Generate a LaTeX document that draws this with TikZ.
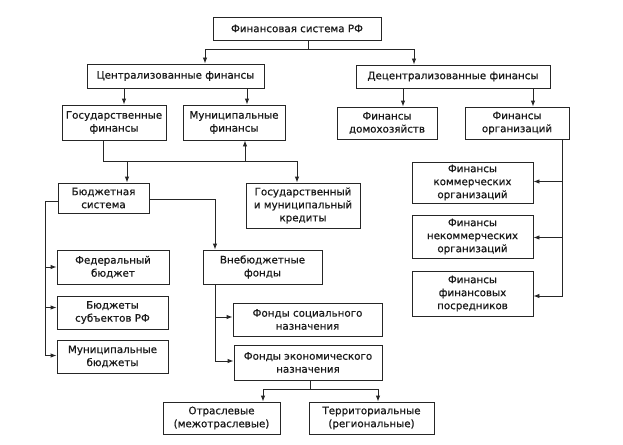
\documentclass[tikz,border=0pt]{standalone}
\usepackage{fontspec}
\setmainfont[FakeBold=0.6]{DejaVu Sans}
\usetikzlibrary{arrows.meta}
\begin{document}
\begin{tikzpicture}[x=1pt,y=-1pt,
  bx/.style={draw=black!85,line width=0.9pt,inner sep=0pt,align=center,
    font=\fontsize{10.3}{13}\selectfont,text=black!90},
  ln/.style={draw=black!85,line width=0.9pt},
  arr/.style={ln,-{Latex[length=6pt,width=4.5pt]}}]
\path[use as bounding box,fill=white] (0,0) rectangle (623,444);
% boxes
\node[bx,minimum width=168,minimum height=23] (root) at (297,28.5) {Финансовая система РФ};
\node[bx,minimum width=177,minimum height=24] (cen) at (175.5,76) {Централизованные финансы};
\node[bx,minimum width=194,minimum height=23] (dec) at (453,76.5) {Децентрализованные финансы};
\node[bx,minimum width=104,minimum height=35] (gos) at (114,122.5) {Государственные\\финансы};
\node[bx,minimum width=102,minimum height=35] (mun) at (234,122.5) {Муниципальные\\финансы};
\node[bx,minimum width=100,minimum height=32] (dom) at (387,123) {Финансы\\домохозяйств};
\node[bx,minimum width=104,minimum height=32] (org) at (517,123) {Финансы\\организаций};
\node[bx,minimum width=91,minimum height=30] (bud) at (103.5,198) {Бюджетная\\система};
\node[bx,minimum width=114,minimum height=45] (kred) at (303,205.5) {Государственный\\и муниципальный\\кредиты};
\node[bx,minimum width=112,minimum height=34] (fed) at (113,267) {Федеральный\\бюджет};
\node[bx,minimum width=111,minimum height=33] (sub) at (112.5,312.5) {Бюджеты\\субъектов РФ};
\node[bx,minimum width=111,minimum height=33] (mb) at (112.5,356.5) {Муниципальные\\бюджеты};
\node[bx,minimum width=119,minimum height=34] (vne) at (262.5,267) {Внебюджетные\\фонды};
\node[bx,minimum width=149,minimum height=33] (soc) at (307.5,319.5) {Фонды социального\\назначения};
\node[bx,minimum width=148,minimum height=35] (eco) at (308,362.5) {Фонды экономического\\назначения};
\node[bx,minimum width=117,minimum height=32] (otr) at (221.5,418) {Отраслевые\\(межотраслевые)};
\node[bx,minimum width=125,minimum height=32] (ter) at (371.5,418) {Территориальные\\(региональные)};
\node[bx,minimum width=121,minimum height=41] (kom) at (472.5,182.5) {Финансы\\коммерческих\\организаций};
\node[bx,minimum width=121,minimum height=43] (nek) at (472.5,236.5) {Финансы\\некоммерческих\\организаций};
\node[bx,minimum width=121,minimum height=45] (pos) at (472.5,293.5) {Финансы\\финансовых\\посредников};
% connectors
\coordinate (rj) at ([xshift=11pt,yshift=-9pt]root.south);
\draw[ln] (rj |- root.south) -- (rj);
\draw[arr] (rj) -| ([xshift=29.5pt]cen.north);
\draw[arr] (rj) -| ([xshift=-39pt]dec.north);
\draw[arr] ([xshift=10pt]gos.north |- cen.south) -- ([xshift=10pt]gos.north);
\draw[arr] ([xshift=13pt]mun.north |- cen.south) -- ([xshift=13pt]mun.north);
\draw[arr] ([xshift=16pt]dom.north |- dec.south) -- ([xshift=16pt]dom.north);
\draw[arr] ([xshift=16pt]org.north |- dec.south) -- ([xshift=16pt]org.north);
\coordinate (ov) at ([xshift=45pt]org.south);
\draw[arr] (ov) |- ([yshift=1pt]kom.east);
\draw[arr] (ov) |- ([yshift=-1pt]nek.east);
\draw[arr] (ov) |- ([yshift=-2.5pt]pos.east);
\coordinate (gj) at ([xshift=-11pt,yshift=-21pt]gos.south);
\coordinate (gk) at ([xshift=-6pt]kred.north |- gj);
\draw[ln] (gj |- gos.south) -- (gj) -- (gk);
\draw[arr] (gk) -- ([xshift=-6pt]kred.north);
\draw[arr] ([xshift=23.5pt]bud.north |- gj) -- ([xshift=23.5pt]bud.north);
\draw[arr] ([xshift=11pt]mun.south |- gj) -- ([xshift=11pt]mun.south);
\coordinate (bl) at ([xshift=-12pt,yshift=-3pt]bud.west);
\draw[ln] ([yshift=-3pt]bud.west) -- (bl);
\draw[arr] (bl) |- (fed.west);
\draw[arr] (bl) |- ([yshift=5pt]sub.west);
\draw[arr] (bl) |- ([yshift=1pt]mb.west);
\draw[arr] ([yshift=-1pt]bud.east) -| ([xshift=-47.5pt]vne.north);
\coordinate (vs) at ([xshift=-47.5pt]vne.south);
\draw[arr] (vs) |- ([yshift=2.5pt]soc.west);
\draw[arr] (vs) |- ([yshift=1.5pt]eco.west);
\coordinate (ej) at ([xshift=2pt,yshift=-9pt]eco.south);
\draw[ln] (ej |- eco.south) -- (ej);
\draw[arr] (ej) -| ([xshift=41.5pt]otr.north);
\draw[arr] (ej) -| ([xshift=6.5pt]ter.north);
\end{tikzpicture}
\end{document}
